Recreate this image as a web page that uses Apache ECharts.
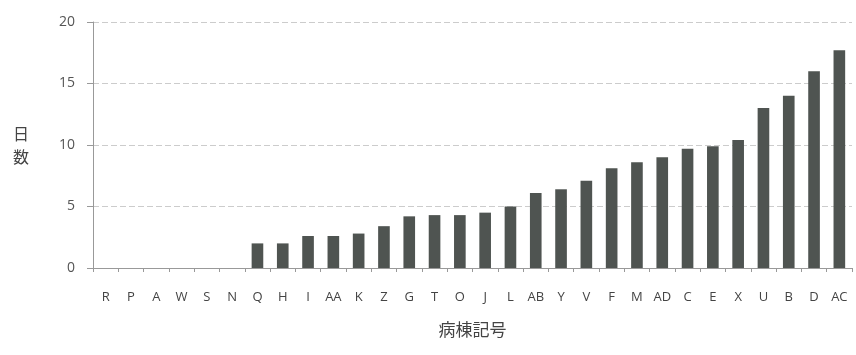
<!DOCTYPE html>
<html>
<head>
<meta charset="utf-8">
<script src="https://cdn.jsdelivr.net/npm/echarts@6/dist/echarts.min.js"></script>
<style>html,body{margin:0;padding:0;background:#fff;}#c{width:856px;height:355px;}</style>
</head>
<body>
<div id="c"></div>
<script>
var categories = ["R","P","A","W","S","N","Q","H","I","AA","K","Z","G","T","O","J","L","AB","Y","V","F","M","AD","C","E","X","U","B","D","AC"];
var days = [0,0,0,0,0,0,2.0,2.0,2.6,2.6,2.8,3.4,4.2,4.3,4.3,4.5,5.0,6.1,6.4,7.1,8.1,8.6,9.0,9.7,9.9,10.4,13.0,14.0,16.0,17.7];
var yTicks = [0,5,10,15,20];

var chart = echarts.init(document.getElementById('c'));
chart.setOption({
  animation: false,
  grid: {left: 93, right: 4, top: 22, bottom: 87},
  xAxis: {
    type: 'category',
    data: categories,
    name: '病棟記号',
    nameLocation: 'middle',
    nameGap: 53,
    nameTextStyle: {fontSize: 17, color: '#444', fontFamily: 'Noto Sans CJK JP'},
    axisLine: {lineStyle: {color: '#999'}},
    axisTick: {show: true, length: 4, lineStyle: {color: '#999'}},
    axisLabel: {fontSize: 13, color: '#444', margin: 23, fontFamily: 'Open Sans', interval: 0}
  },
  yAxis: {
    type: 'value',
    min: yTicks[0],
    max: yTicks[yTicks.length - 1],
    interval: 5,
    name: '日\n数',
    nameLocation: 'middle',
    nameRotate: 0,
    nameGap: 64,
    nameTextStyle: {fontSize: 16, color: '#444', lineHeight: 23, fontFamily: 'Noto Sans CJK JP'},
    axisLine: {show: true, lineStyle: {color: '#999'}},
    axisTick: {show: true, length: 6, lineStyle: {color: '#999'}},
    axisLabel: {fontSize: 14, color: '#555', margin: 18, fontFamily: 'Open Sans'},
    splitLine: {lineStyle: {color: '#ccc', type: [6, 3]}}
  },
  series: [{
    type: 'bar',
    data: days,
    barWidth: '46%',
    itemStyle: {color: '#4f5451'}
  }]
});
</script>
</body>
</html>
